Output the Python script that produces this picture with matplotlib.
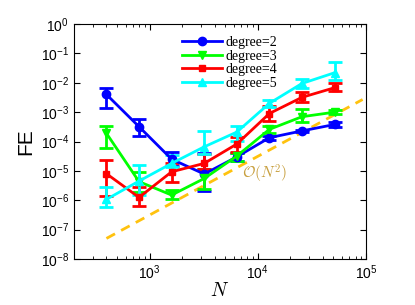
import numpy as np
import matplotlib
matplotlib.use("Agg")
import matplotlib.pyplot as plt
from matplotlib.lines import Line2D

plt.rcParams['font.family'] = ['Liberation Sans', 'DejaVu Sans']
plt.rcParams['mathtext.fontset'] = 'cm'

# problem sizes
N = [400, 800, 1600, 3200, 6400, 12800, 25600, 51200]

# degree=2
fe2 = [4.0e-3, 3.2e-4, 2.5e-5, 7.8e-6, 3.0e-5, 1.35e-4, 2.3e-4, 3.8e-4]
lo2 = [1.35e-3, 1.6e-4, 1.5e-5, 2.1e-6, 2.2e-5, 1.15e-4, 2.1e-4, 3.2e-4]
hi2 = [6.5e-3, 6.0e-4, 4.5e-5, 4.0e-5, 4.2e-5, 1.6e-4, 2.5e-4, 4.8e-4]

# degree=3
fe3 = [1.9e-4, 4.3e-6, 1.5e-6, 5.5e-6, 3.2e-5, 2.6e-4, 7.0e-4, 1.0e-3]
lo3 = [5.9e-5, 1.9e-6, 1.07e-6, 2.5e-6, 2.2e-5, 2.0e-4, 4.7e-4, 8.5e-4]
hi3 = [3.5e-4, 9.3e-6, 2.2e-6, 1.2e-5, 4.2e-5, 3.4e-4, 1.3e-3, 1.2e-3]

# degree=4
fe4 = [8.0e-6, 1.25e-6, 9.3e-6, 1.8e-5, 8.2e-5, 9.0e-4, 3.2e-3, 6.8e-3]
lo4 = [1.4e-6, 6.3e-7, 4.3e-6, 1.2e-5, 4.5e-5, 5.1e-4, 2.3e-3, 5.4e-3]
hi4 = [2.3e-5, 2.9e-6, 1.8e-5, 3.7e-5, 1.45e-4, 1.6e-3, 4.7e-3, 1.0e-2]

# degree=5
fe5 = [1.07e-6, 4.5e-6, 1.8e-5, 6.6e-5, 2.1e-4, 2.0e-3, 9.5e-3, 2.2e-2]
lo5 = [5.8e-7, 1.5e-6, 1.4e-5, 3.7e-5, 1.07e-4, 1.5e-3, 6.9e-3, 1.23e-2]
hi5 = [2.9e-6, 1.6e-5, 3.6e-5, 2.3e-4, 3.5e-4, 2.7e-3, 1.4e-2, 5.2e-2]

labels = ['degree=2', 'degree=3', 'degree=4', 'degree=5']

# O(N^2) guide line end points
ref_N = [400, 93000]
ref_fe = [5.0e-8, 2.7e-3]

fig = plt.figure(figsize=(4.15, 3.05), dpi=100)
ax = fig.add_axes([0.178, 0.151, 0.704, 0.770])

ax.plot(ref_N, ref_fe, '--', color='#ffc20e', lw=2, dashes=(3.5, 2.5), zorder=1)

series = [(fe2, lo2, hi2, '#0000ff', 'o', 6),
          (fe3, lo3, hi3, '#00ff00', 'v', 6),
          (fe4, lo4, hi4, '#ff0000', 's', 5),
          (fe5, lo5, hi5, '#00ffff', '^', 6)]
handles = []
for (fe, lo, hi, c, m, s), lab in zip(series, labels):
    fe = np.array(fe)
    err = [fe - np.array(lo), np.array(hi) - fe]
    ax.errorbar(N, fe, yerr=err, color=c, marker=m, ms=s, lw=2,
                capsize=5, capthick=2, elinewidth=2, zorder=2)
    handles.append(Line2D([], [], color=c, marker=m, ms=s, lw=2, label=lab))

ax.set_xscale('log')
ax.set_yscale('log')
ax.set_xlim(200, 1e5)
ax.set_ylim(1e-8, 1)
ax.set_yticks([10.0**k for k in range(-8, 1)])
ax.set_xticks([1e3, 1e4, 1e5])
ax.tick_params(which='both', direction='in', top=True, right=True, labelsize=10)
ax.tick_params(which='major', length=4)
ax.tick_params(which='minor', length=2)

ax.set_xlabel(r'$N$', fontsize=14, labelpad=0)
ax.set_ylabel('FE', fontsize=15, labelpad=4)

ax.text(7.2e3, 8e-6, r'$\mathcal{O}(N^2)$', color='#c8a040',
        fontsize=11, ha='left', va='center')

leg = ax.legend(handles=handles, loc='upper left', bbox_to_anchor=(0.34, 0.985),
                frameon=False, prop={'family': 'Liberation Serif', 'size': 10},
                handlelength=2.9, labelspacing=0.05, handletextpad=0.3,
                borderaxespad=0.2)

fig.savefig('out.png', dpi=100)
